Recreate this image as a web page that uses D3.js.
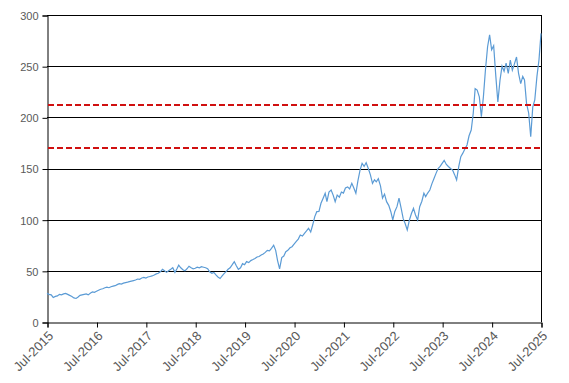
<!DOCTYPE html>
<html>
<head>
<meta charset="utf-8">
<script src="https://cdn.jsdelivr.net/npm/d3@7"></script>
<style>
  body { margin: 0; background: #fff; }
  svg text { font-family: "Liberation Sans", Arial, sans-serif; }
</style>
</head>
<body>
<div id="chart"></div>
<script>
// semi-monthly closes, 1st and 16th of each month, Jul 2015 .. Jul 2025
const prices = [
  28, 27, 26.5, 24, 25, 25.5, 27, 26.5, 27.5, 28, 27, 26,
  25, 23.5, 23, 24.5, 26, 26.5, 27, 27.5, 26.5, 28, 29.5, 29,
  30, 31, 32, 32.5, 33.5, 34, 33.5, 34.5, 35, 35.5, 36.5, 37.5,
  37, 38, 38.5, 39, 39.5, 40, 40.5, 41, 42, 41.7, 43, 43.5,
  43, 44, 44.5, 45, 46, 47, 47.6, 49, 51.5, 50, 48.5, 50,
  51.5, 53, 48.5, 52, 55.5, 53, 51, 50, 52, 54.5, 53, 52,
  52.5, 53.5, 53, 54, 53.5, 53, 52, 49, 47.6, 48.5, 46, 44,
  42.5, 45, 47.5, 49.5, 51.5, 53, 56, 59, 55, 51.5, 53, 57,
  56, 59, 58, 60, 61, 62, 63.5, 64, 65.5, 66.5, 68, 70,
  69.5, 72, 75, 70, 60, 52, 63, 64.5, 68.7, 70, 72.5, 73.6,
  76, 78.5, 81, 85, 84, 86.7, 89, 91.6, 88, 95, 103, 107.8,
  108, 116, 121, 125.8, 117.6, 127, 129, 124, 117.6, 124, 122, 127,
  126, 131, 132, 130, 135.5, 131, 125.8, 138, 148.5, 155, 152, 155.7,
  150, 144, 135.5, 139, 137, 140, 133, 121, 125, 117.6, 114, 108,
  99.7, 108, 112.7, 121, 111, 101, 96, 90, 99.7, 106, 111, 104.6,
  99.7, 112.7, 118, 125.8, 122.5, 126, 129, 135, 140, 145, 150, 152,
  155, 158, 154, 152, 150, 148.5, 144, 138.8, 152, 161.5, 165, 169,
  173, 182, 187.6, 204, 228, 226.7, 220, 200.6, 220, 246, 269, 280.5,
  266, 270, 240, 215, 236.5, 250, 245, 253, 243, 256, 246, 252,
  259, 243, 233, 240, 236.5, 213.7, 204, 181, 210, 217, 240, 256,
  282
];
const yTicks = [0, 50, 100, 150, 200, 250, 300];
const tickYears = [2015, 2016, 2017, 2018, 2019, 2020, 2021, 2022, 2023, 2024, 2025];
const refLevels = [212, 170];

const width = 569, height = 383;
const margin = {top: 15, right: 28, bottom: 61, left: 47};

const data = prices.map((v, i) => ({
  date: new Date(2015, 6 + Math.floor(i / 2), i % 2 ? 16 : 1),
  value: v
}));

const svg = d3.select("#chart").append("svg")
  .attr("width", width)
  .attr("height", height);

const x = d3.scaleTime()
  .domain([new Date(2015, 6, 1), new Date(2025, 6, 1)])
  .range([margin.left, width - margin.right]);

const y = d3.scaleLinear()
  .domain([0, 300])
  .range([height - margin.bottom, margin.top]);

// horizontal gridlines
svg.append("g")
  .selectAll("line")
  .data(yTicks.filter(d => d > 0))
  .enter()
  .append("line")
  .attr("x1", margin.left)
  .attr("x2", width - margin.right)
  .attr("y1", d => Math.round(y(d)) + 0.5)
  .attr("y2", d => Math.round(y(d)) + 0.5)
  .attr("stroke", "#000")
  .attr("stroke-width", 1);

// right frame
svg.append("line")
  .attr("x1", width - margin.right + 0.5)
  .attr("x2", width - margin.right + 0.5)
  .attr("y1", margin.top)
  .attr("y2", height - margin.bottom)
  .attr("stroke", "#000");

const yAxis = svg.append("g")
  .attr("transform", `translate(${margin.left + 0.5},0.5)`)
  .call(d3.axisLeft(y).tickValues(yTicks).tickSize(5).tickPadding(4));

const xAxis = svg.append("g")
  .attr("transform", `translate(0.5,${Math.round(y(0)) + 0.5})`)
  .call(d3.axisBottom(x)
    .tickValues(tickYears.map(yr => new Date(yr, 6, 1)))
    .tickFormat(d3.timeFormat("%b-%Y"))
    .tickSize(5));

[yAxis, xAxis].forEach(a => {
  a.select(".domain").attr("stroke", "#000");
  a.selectAll(".tick line").attr("stroke", "#000");
  a.selectAll("text").attr("fill", "#595959").style("font-size", "11px");
});
yAxis.selectAll("text").attr("dy", "0.35em");

xAxis.selectAll("text")
  .style("font-size", "13px")
  .attr("text-anchor", "end")
  .attr("dy", "0.35em")
  .attr("transform", "translate(3,11) rotate(-45)")
  .attr("y", 0)
  .attr("x", 0);

// price line
svg.append("path")
  .datum(data)
  .attr("fill", "none")
  .attr("stroke", "#5b9bd5")
  .attr("stroke-width", 1.2)
  .attr("d", d3.line().x(d => x(d.date)).y(d => y(d.value)));

// reference levels
svg.append("g")
  .selectAll("line")
  .data(refLevels)
  .enter()
  .append("line")
  .attr("x1", margin.left + 1)
  .attr("x2", width - margin.right)
  .attr("y1", d => y(d))
  .attr("y2", d => y(d))
  .attr("stroke", "#d01010")
  .attr("stroke-width", 2)
  .attr("stroke-dasharray", "6,3");
</script>
</body>
</html>
